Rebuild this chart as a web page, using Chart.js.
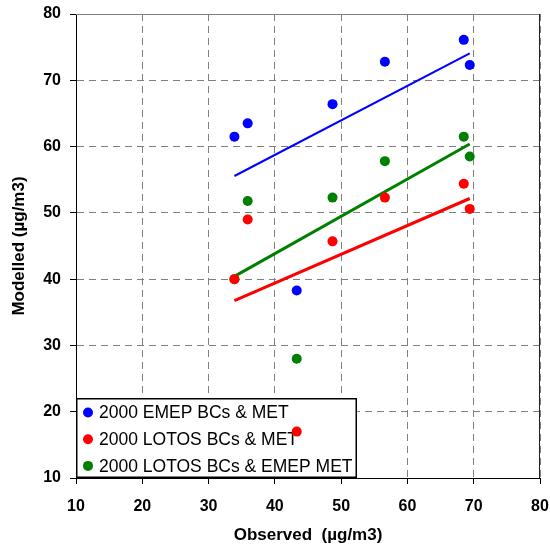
<!DOCTYPE html>
<html>
<head>
<meta charset="utf-8">
<script src="https://cdn.jsdelivr.net/npm/chart.js@4.4.1/dist/chart.umd.min.js"></script>
<style>
  html, body { margin: 0; padding: 0; background: #fff; }
  #wrap { width: 550px; height: 544px; }
</style>
</head>
<body>
<div id="wrap"><canvas id="scatter-chart" width="550" height="544"></canvas></div>
<script>
// Observed concentrations at the stations (x) and the three model runs (y)
const observed = [33.9, 35.9, 43.3, 48.7, 56.6, 68.5, 69.4];
const emepBcsMet = [61.5, 63.5, 38.3, 66.4, 72.8, 76.1, 72.3];
const lotosBcsMet = [40.0, 49.0, 17.0, 45.7, 52.3, 54.4, 50.6];
const lotosBcsEmepMet = [40.0, 51.8, 28.0, 52.3, 57.8, 61.5, 58.5];

const seriesNames = ['2000 EMEP BCs & MET', '2000 LOTOS BCs & MET', '2000 LOTOS BCs & EMEP MET'];
const seriesColors = ['#0000ff', '#ff0000', '#008000'];
const axisTicks = [10, 20, 30, 40, 50, 60, 70, 80];

const FONT = "'Liberation Sans', Arial, sans-serif";

const toPoints = ys => observed.map((x, i) => ({ x, y: ys[i] }));

// least squares trendline over the observed range
const trendline = ys => {
    const n = observed.length;
    const mx = observed.reduce((a, b) => a + b, 0) / n;
    const my = ys.reduce((a, b) => a + b, 0) / n;
    let sxy = 0, sxx = 0;
    observed.forEach((x, i) => {
        sxy += (x - mx) * (ys[i] - my);
        sxx += (x - mx) * (x - mx);
    });
    const slope = sxy / sxx;
    const x0 = Math.min(...observed), x1 = Math.max(...observed);
    return [x0, x1].map(x => ({ x, y: my + slope * (x - mx) }));
};

const series = [emepBcsMet, lotosBcsMet, lotosBcsEmepMet];

const pointSets = series.map((ys, i) => ({
    label: seriesNames[i],
    data: toPoints(ys),
    backgroundColor: seriesColors[i],
    borderColor: seriesColors[i],
    borderWidth: 0,
    pointRadius: 5,
    pointHoverRadius: 5
}));

const lineWidths = [2, 3, 3];
const trendSets = series.map((ys, i) => ({
    type: 'line',
    label: seriesNames[i] + ' trend',
    data: trendline(ys),
    borderColor: seriesColors[i],
    borderWidth: lineWidths[i],
    pointRadius: 0,
    fill: false
}));

// plot frame (top and right) and the boxed legend in the lower left corner
const frameAndLegend = {
    id: 'frameAndLegend',
    beforeDatasetsDraw(chart) {
        const { ctx, chartArea: a } = chart;
        ctx.save();
        ctx.lineWidth = 1;
        ctx.strokeStyle = '#808080';
        ctx.beginPath();
        ctx.moveTo(a.left, a.top + 0.5);
        ctx.lineTo(a.right, a.top + 0.5);
        ctx.stroke();
        ctx.strokeStyle = '#222';
        ctx.beginPath();
        ctx.moveTo(a.right - 0.5, a.top);
        ctx.lineTo(a.right - 0.5, a.bottom);
        ctx.stroke();

        const bx = a.left, bw = 281, bh = 80, by = a.bottom - bh;
        ctx.fillStyle = '#fff';
        ctx.fillRect(bx, by, bw, bh);
        ctx.strokeStyle = '#000';
        ctx.lineWidth = 1.5;
        ctx.strokeRect(bx + 0.75, by + 0.75, bw - 1.5, bh - 1.5);

        ctx.font = `17.5px ${FONT}`;
        ctx.textBaseline = 'middle';
        ctx.textAlign = 'left';
        pointSets.forEach((ds, i) => {
            const cy = by + 14.5 + i * 26.7;
            ctx.fillStyle = ds.backgroundColor;
            ctx.beginPath();
            ctx.arc(bx + 12, cy, 5, 0, Math.PI * 2);
            ctx.fill();
            ctx.fillStyle = '#000';
            ctx.fillText(ds.label, bx + 23, cy + 1);
        });
        ctx.restore();
    }
};

const gridStyle = {
    color: '#808080',
    lineWidth: 1,
    tickColor: '#000',
    tickLength: 6,
    tickBorderDash: [0, 0],
    tickWidth: 1
};
// axis line solid, grid lines dashed
const borderStyle = { color: '#000', width: 1, dash: [7, 5] };

new Chart(document.getElementById('scatter-chart'), {
    type: 'scatter',
    data: { datasets: [...pointSets, ...trendSets] },
    options: {
        responsive: false,
        animation: false,
        events: [],
        layout: { padding: { top: 14, right: 10, left: 0, bottom: 0 } },
        plugins: {
            legend: { display: false },
            tooltip: { enabled: false }
        },
        scales: {
            x: {
                type: 'linear',
                position: 'bottom',
                min: axisTicks[0],
                max: axisTicks[axisTicks.length - 1],
                afterBuildTicks: scale => { scale.ticks = axisTicks.map(value => ({ value })); },
                afterFit: scale => {
                    scale.height = 66;
                    scale.paddingLeft = 0;
                    scale.paddingRight = 0;
                },
                grid: gridStyle,
                border: borderStyle,
                ticks: {
                    color: '#000',
                    padding: 13,
                    maxRotation: 0,
                    font: { family: FONT, size: 16, weight: 'bold' }
                },
                title: {
                    display: true,
                    text: 'Observed  (µg/m3)',
                    color: '#000',
                    padding: { top: 0, bottom: 0 },
                    font: { family: FONT, size: 17, weight: 'bold', lineHeight: 1 }
                }
            },
            y: {
                type: 'linear',
                min: axisTicks[0],
                max: axisTicks[axisTicks.length - 1],
                afterBuildTicks: scale => { scale.ticks = axisTicks.map(value => ({ value })); },
                afterFit: scale => {
                    scale.width = 76;
                    scale.paddingTop = 0;
                    scale.paddingBottom = 0;
                },
                grid: gridStyle,
                border: borderStyle,
                ticks: {
                    color: '#000',
                    padding: 9,
                    font: { family: FONT, size: 16, weight: 'bold' }
                },
                title: {
                    display: true,
                    text: 'Modelled (µg/m3)',
                    color: '#000',
                    padding: { top: 11, bottom: 0 },
                    font: { family: FONT, size: 17, weight: 'bold', lineHeight: 1 }
                }
            }
        }
    },
    plugins: [frameAndLegend]
});
</script>
</body>
</html>
